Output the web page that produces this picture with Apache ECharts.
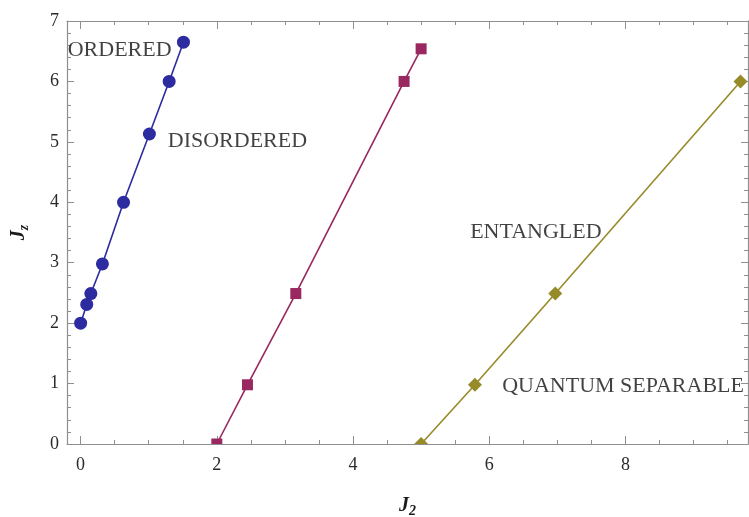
<!DOCTYPE html>
<html>
<head>
<meta charset="utf-8">
<script src="https://cdn.jsdelivr.net/npm/echarts@6/dist/echarts.min.js"></script>
<style>
  html, body { margin: 0; padding: 0; background: #fff; }
  #chart { width: 749px; height: 517px; }
</style>
</head>
<body>
<div id="chart"></div>
<script>
// Phase boundaries in the (J2, Jz) plane
const orderedX = [0, 0.09, 0.15, 0.32, 0.63, 1.01, 1.30, 1.51];
const orderedY = [2.0, 2.31, 2.49, 2.98, 4.0, 5.13, 6.0, 6.65];

const entangledX = [2.0, 2.45, 3.16, 4.75, 5.0];
const entangledY = [0, 0.98, 2.49, 6.0, 6.54];

const separableX = [5.0, 5.79, 6.97, 9.69];
const separableY = [0, 0.98, 2.49, 6.0];

// Tick values
const xLabelTicks = [0, 2, 4, 6, 8];
const xMinorTicks = [0.5, 1, 1.5, 2.5, 3, 3.5, 4.5, 5, 5.5, 6.5, 7, 7.5, 8.5, 9, 9.5];
const yTickStep = 1;

// Region names, anchored at their left edge (data units)
const regionNames = ['ORDERED', 'DISORDERED', 'ENTANGLED', 'QUANTUM SEPARABLE'];
const regionX = [-0.19, 1.28, 5.72, 6.19];
const regionY = [6.51, 5.01, 3.51, 0.96];

const X_MIN = -0.2, X_MAX = 9.8, Y_MIN = 0, Y_MAX = 7;
const SERIF = '"Liberation Serif", "DejaVu Serif", serif';
const FRAME = '#8f8f8f';

// Markers sitting on the lower frame are cut in half by it
function points(xs, ys, symbol, size) {
  return xs.map((x, i) => {
    const item = { value: [x, ys[i]] };
    if (ys[i] === Y_MIN) {
      item.symbol = symbol === 'diamond' ? 'triangle' : symbol;
      item.symbolSize = [size, size / 2];
      item.symbolOffset = [0, -size / 4];
    }
    return item;
  });
}

function lineSeries(name, xs, ys, color, symbol, size) {
  return {
    name, type: 'line', xAxisIndex: 0, yAxisIndex: 0,
    data: points(xs, ys, symbol, size),
    symbol, symbolSize: size, showSymbol: true,
    lineStyle: { color, width: 1.6 },
    itemStyle: { color },
    clip: false, animation: false
  };
}

function xAxis(position, ticks, len, showLine, showLabel) {
  return {
    type: 'value', position, min: X_MIN, max: X_MAX,
    axisLine: { show: showLine, onZero: false, lineStyle: { color: FRAME, width: 1.2 } },
    axisTick: { show: true, inside: true, length: len, customValues: ticks,
      lineStyle: { color: FRAME, width: 1 } },
    axisLabel: showLabel ? {
      show: true, customValues: xLabelTicks, margin: 12,
      fontFamily: SERIF, fontSize: 18, color: '#2a2a2a'
    } : { show: false },
    splitLine: { show: false }
  };
}

function yAxis(position, showLabel) {
  return {
    type: 'value', position, min: Y_MIN, max: Y_MAX, interval: yTickStep,
    axisLine: { show: true, onZero: false, lineStyle: { color: FRAME, width: 1.2 } },
    axisTick: { show: true, inside: true, length: 7, lineStyle: { color: FRAME, width: 1 } },
    minorTick: { show: true, splitNumber: 5, length: 4, lineStyle: { color: FRAME, width: 1 } },
    axisLabel: showLabel ? {
      show: true, margin: 8, fontFamily: SERIF, fontSize: 18, color: '#2a2a2a'
    } : { show: false },
    splitLine: { show: false },
    minorSplitLine: { show: false }
  };
}

const nameStyle = {
  rich: {
    j: { fontFamily: SERIF, fontStyle: 'italic', fontWeight: 'bold', fontSize: 20, color: '#1a1a1a' },
    s: { fontFamily: SERIF, fontStyle: 'italic', fontWeight: 'bold', fontSize: 14, color: '#1a1a1a',
         verticalAlign: 'bottom', padding: [10, 0, 0, 0] }
  }
};

const xs = [
  xAxis('bottom', xLabelTicks, 8, true, true),
  xAxis('bottom', xMinorTicks, 4, false, false),
  xAxis('top', xLabelTicks, 8, true, false),
  xAxis('top', xMinorTicks, 4, false, false)
];
Object.assign(xs[0], { name: '{j|J}{s|2}', nameLocation: 'middle', nameGap: 50, nameTextStyle: nameStyle });

const ys = [yAxis('left', true), yAxis('right', false)];
Object.assign(ys[0], { name: '{j|J}{s|z}', nameLocation: 'middle', nameGap: 36, nameTextStyle: nameStyle });

const chart = echarts.init(document.getElementById('chart'), null, { renderer: 'canvas' });
chart.setOption({
  backgroundColor: '#fff',
  animation: false,
  grid: { left: 67, top: 21, right: 1, bottom: 73, containLabel: false, outerBoundsMode: 'none' },
  xAxis: xs,
  yAxis: ys,
  series: [
    lineSeries('ordered', orderedX, orderedY, '#2c2ca0', 'circle', 13),
    lineSeries('entangled', entangledX, entangledY, '#98285f', 'rect', 11),
    lineSeries('separable', separableX, separableY, '#978a29', 'diamond', 14),
    {
      name: 'regions', type: 'scatter', xAxisIndex: 0, yAxisIndex: 0,
      silent: true, symbolSize: 1,
      itemStyle: { color: 'rgba(0,0,0,0)' },
      data: regionNames.map((n, i) => ({ name: n, value: [regionX[i], regionY[i]] })),
      label: {
        show: true, position: 'inside', align: 'left', verticalAlign: 'middle',
        formatter: p => p.name,
        fontFamily: SERIF, fontSize: 22, color: '#111', textBorderWidth: 0
      },
      z: 5
    }
  ]
});
</script>
</body>
</html>
